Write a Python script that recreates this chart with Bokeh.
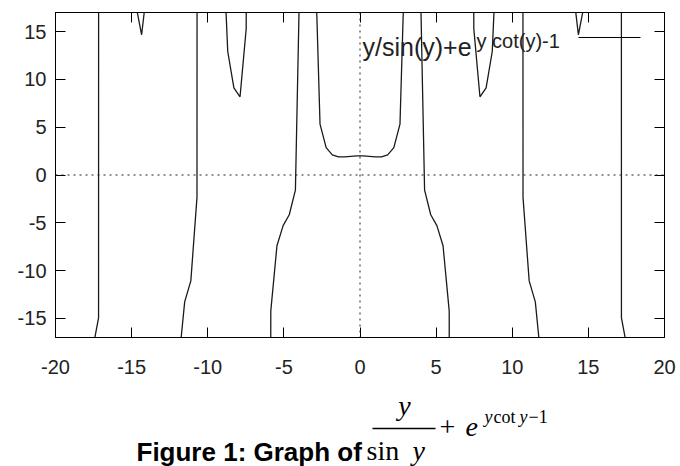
from bokeh.plotting import figure
from bokeh.models import (Range1d, LinearAxis, FixedTicker, Span, Label,
                          BoxAnnotation)
from bokeh.layouts import column
from bokeh.core.properties import value
from bokeh.embed import file_html
from bokeh.resources import INLINE

# ---------------- data (gnuplot-style 100 samples of the function) ----------
x_samples = [
    -20.0000, -19.5960, -19.1919, -18.7879, -18.3838, -17.9798, -17.5758, -17.1717,
    -16.7677, -16.3636, -15.9596, -15.5556, -15.1515, -14.7475, -14.3434, -13.9394,
    -13.5354, -13.1313, -12.7273, -12.3232, -11.9192, -11.5152, -11.1111, -10.7071,
    -10.3030, -9.8990, -9.4949, -9.0909, -8.6869, -8.2828, -7.8788, -7.4747,
    -7.0707, -6.6667, -6.2626, -5.8586, -5.4545, -5.0505, -4.6465, -4.2424,
    -3.8384, -3.4343, -3.0303, -2.6263, -2.2222, -1.8182, -1.4141, -1.0101,
    -0.6061, -0.2020,
    0.2020, 0.6061, 1.0101, 1.4141, 1.8182, 2.2222, 2.6263, 3.0303,
    3.4343, 3.8384, 4.2424, 4.6465, 5.0505, 5.4545, 5.8586, 6.2626,
    6.6667, 7.0707, 7.4747, 7.8788, 8.2828, 8.6869, 9.0909, 9.4949,
    9.8990, 10.3030, 10.7071, 11.1111, 11.5152, 11.9192, 12.3232, 12.7273,
    13.1313, 13.5354, 13.9394, 14.3434, 14.7475, 15.1515, 15.5556, 15.9596,
    16.3636, 16.7677, 17.1717, 17.5758, 17.9798, 18.3838, 18.7879, 19.1919,
    19.5960, 20.0000,
]
f_values = [
    2800, 6e8, 1e23, -305, -40.9, -23.53, -18.38, -14.94,
    4489, 6.4e8, 3e26, 102.4, 28.68, 18.0, 14.67, 20.2,
    3990, 3.6e8, 5e33, -51.5, -19.79, -13.27, -11.08, -2.34,
    1875, 8.8e7, 1e58, 27.67, 12.92, 9.12, 8.18, 15.3,
    431, 5.5e6, -304, -14.22, -7.40, -5.29, -4.16, -1.58,
    30.2, 32850, 27.3, 5.33, 2.862, 2.108, 1.892, 1.886,
    1.946, 1.993,
    1.993, 1.946, 1.886, 1.892, 2.108, 2.862, 5.33, 27.3,
    32850, 30.2, -1.58, -4.16, -5.29, -7.40, -14.22, -304,
    5.5e6, 431, 15.3, 8.18, 9.12, 12.92, 27.67, 1e58,
    8.8e7, 1875, -2.34, -11.08, -13.27, -19.79, -51.5, 5e33,
    3.6e8, 3990, 20.2, 14.67, 18.0, 28.68, 102.4, 3e26,
    6.4e8, 4489, -14.94, -18.38, -23.53, -40.9, -305, 1e23,
    6e8, 2800,
]

x_ticks = [-20, -15, -10, -5, 0, 5, 10, 15, 20]
x_tick_labels = ["-20", "-15", "-10", "-5", "0", "5", "10", "15", "20"]
y_ticks = [-15, -10, -5, 0, 5, 10, 15]
y_tick_labels = ["-15", "-10", "-5", "0", "5", "10", "15"]
x_lim = (-20, 20)
y_lim = (-17, 17)
legend_main = "y/sin(y)+e"
legend_sup = "y cot(y)-1"

# gnuplot draws a segment only if at least one end is inside the y range
lo, hi = y_lim
def inside(v):
    return lo <= v <= hi

runs_x, runs_y = [], []
cur_x, cur_y = [], []
for i in range(len(x_samples) - 1):
    if inside(f_values[i]) or inside(f_values[i + 1]):
        if not cur_x:
            cur_x, cur_y = [x_samples[i]], [f_values[i]]
        cur_x.append(x_samples[i + 1])
        cur_y.append(f_values[i + 1])
    else:
        if cur_x:
            runs_x.append(cur_x)
            runs_y.append(cur_y)
        cur_x, cur_y = [], []
if cur_x:
    runs_x.append(cur_x)
    runs_y.append(cur_y)

# ---------------- main plot ----------------
TICK_FONT = "Liberation Sans"
p = figure(width=680, height=385, x_range=Range1d(*x_lim), y_range=Range1d(*y_lim),
           output_backend="svg", toolbar_location=None,
           min_border_left=55, min_border_right=16, min_border_top=12, min_border_bottom=48)
p.grid.visible = False
p.outline_line_color = "black"
p.outline_line_width = 1
p.background_fill_color = "white"
p.border_fill_color = "white"

p.multi_line(xs=runs_x, ys=runs_y, line_color="#1a1a1a", line_width=1.3)

p.add_layout(Span(location=0, dimension="width", line_color="#222222",
                  line_dash="2 4", line_width=1))
p.add_layout(Span(location=0, dimension="height", line_color="#222222",
                  line_dash="2 4", line_width=1))

def style_axis(ax, ticks, labels, show_labels, standoff):
    ax.ticker = FixedTicker(ticks=ticks)
    ax.major_tick_in = 10
    ax.major_tick_out = 0
    ax.minor_tick_in = 0
    ax.minor_tick_out = 0
    ax.axis_line_color = "black"
    ax.major_tick_line_color = "black"
    ax.major_label_text_font = TICK_FONT
    ax.major_label_text_color = "#222222"
    ax.major_label_text_font_size = "20px"
    ax.major_label_standoff = standoff
    if show_labels:
        ax.major_label_overrides = {t: l for t, l in zip(ticks, labels)}
    else:
        ax.major_label_overrides = {t: "" for t in ticks}

style_axis(p.xaxis[0], x_ticks, x_tick_labels, True, 22)
style_axis(p.yaxis[0], y_ticks, y_tick_labels, True, 9)
top_ax = LinearAxis()
style_axis(top_ax, x_ticks, x_tick_labels, False, 0)
p.add_layout(top_ax, "above")
right_ax = LinearAxis()
style_axis(right_ax, y_ticks, y_tick_labels, False, 0)
p.add_layout(right_ax, "right")

# key (gnuplot style, with superscript)
p.add_layout(Label(x=307, y=291, x_units="screen", y_units="screen", text=legend_main,
                   text_font=TICK_FONT, text_font_size="25px", text_color="#222222",
                   text_baseline="alphabetic"))
p.add_layout(Label(x=421, y=297, x_units="screen", y_units="screen", text=legend_sup,
                   text_font=TICK_FONT, text_font_size="20px", text_color="#222222",
                   text_baseline="alphabetic"))
p.add_layout(BoxAnnotation(left=523, right=585, bottom=299.4, top=300.6,
                           left_units="screen", right_units="screen",
                           bottom_units="screen", top_units="screen",
                           fill_color="black", fill_alpha=1, line_alpha=0))

# ---------------- caption (frame aligned with main plot; coords = page pixels) ----
cap = figure(width=680, height=81, x_range=Range1d(55, 664), y_range=Range1d(466, 385),
             output_backend="svg", toolbar_location=None,
             min_border_left=55, min_border_right=16, min_border_top=0, min_border_bottom=0,
             x_axis_location=None, y_axis_location=None)
cap.grid.visible = False
cap.outline_line_color = None

SERIF = "Liberation Serif"
FS = "28px"
cap.text(x=[136], y=[451], text=["Figure 1: Graph of"], text_font=value("Liberation Sans"),
         text_font_style="bold", text_font_size="26px", text_color="black",
         text_baseline="alphabetic", text_align="left")
cap.text(x=[404], y=[405], text=["y"], text_font=value(SERIF), text_font_style="italic",
         text_font_size=FS, text_color="black", text_baseline="alphabetic",
         text_align="center")
cap.segment(x0=[372], y0=[428], x1=[435], y1=[428], line_color="black", line_width=1.5)
cap.text(x=[447], y=[426], text=["+"], text_font=value(SERIF), text_font_size=FS,
         text_color="black", text_baseline="alphabetic", text_align="center")
cap.text(x=[465], y=[426], text=["e"], text_font=value(SERIF), text_font_style="italic",
         text_font_size=FS, text_color="black", text_baseline="alphabetic",
         text_align="left")
cap.text(x=[484, 519], y=[416, 416], text=["y", "y"], text_font=value(SERIF),
         text_font_style="italic", text_font_size="18px", text_color="black",
         text_baseline="alphabetic", text_align="left")
cap.text(x=[493, 528], y=[416, 416], text=["cot", "\u22121"], text_font=value(SERIF),
         text_font_size="18px", text_color="black", text_baseline="alphabetic",
         text_align="left")
cap.text(x=[366], y=[450], text=["sin"], text_font=value(SERIF), text_font_size=FS,
         text_color="black", text_baseline="alphabetic", text_align="left")
cap.text(x=[412], y=[450], text=["y"], text_font=value(SERIF), text_font_style="italic",
         text_font_size=FS, text_color="black", text_baseline="alphabetic",
         text_align="left")

layout = column(p, cap, spacing=0)
open("out.html", "w").write(file_html(layout, INLINE))
